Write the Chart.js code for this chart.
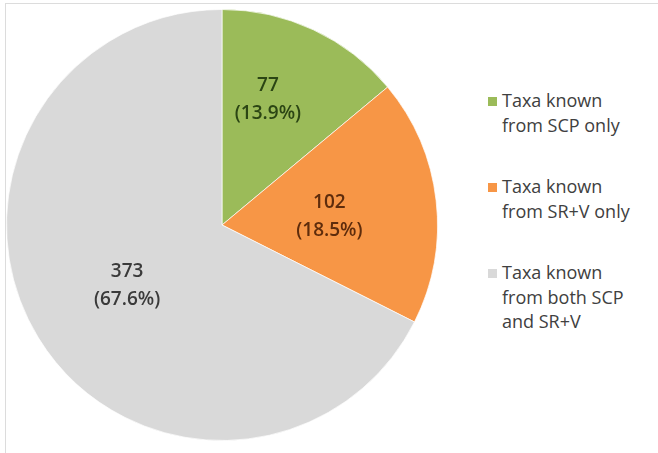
<!DOCTYPE html>
<html lang="en">
<head>
    <meta charset="UTF-8" />
    <title>Taxa by source</title>
    <script src="https://cdn.jsdelivr.net/npm/chart.js"></script>
    <style>
        html, body {
            margin: 0;
            padding: 0;
            background: #fff;
        }
        body {
            width: 658px;
            height: 453px;
            position: relative;
            overflow: hidden;
            font-family: "Open Sans", sans-serif;
        }
        /* light frame on the top and left edges only */
        #frame {
            position: absolute;
            left: 5px;
            top: 3px;
            right: 0;
            bottom: 0;
            border-top: 1px solid #dcdcdc;
            border-left: 1px solid #dcdcdc;
        }
        #chartContainer {
            position: absolute;
            left: 6px;
            top: 9px;
            width: 432px;
            height: 432px;
        }
        #legend {
            position: absolute;
            left: 488px;
            top: 88px;
            color: #404040;
            font-size: 18px;
            line-height: 24.5px;
        }
        .item {
            position: relative;
            padding-left: 14px;
            margin-bottom: 37px;
        }
        .swatch {
            position: absolute;
            left: 0;
            top: 9px;
            width: 9px;
            height: 9px;
        }
    </style>
</head>
<body>

<div id="frame"></div>
<div id="chartContainer">
    <canvas id="myChart"></canvas>
</div>
<div id="legend"></div>

<script>
    // data
    const categories = [
        ['Taxa known', 'from SCP only'],
        ['Taxa known', 'from SR+V only'],
        ['Taxa known', 'from both SCP', 'and SR+V']
    ];
    const counts = [77, 102, 373];
    const percents = ['13.9%', '18.5%', '67.6%'];

    // styles
    const colors = ['#9bbb59', '#f79646', '#d9d9d9'];
    const labelColors = ['#2b4514', '#5e2c0c', '#3a3a3a'];
    // where each value label sits: fraction of radius, angle nudge (deg)
    const labelRadius = [0.62, 0.50, 0.52];
    const labelNudge = [-5, 2, -0.5];

    const sliceLabels = {
        id: 'sliceLabels',
        afterDatasetsDraw(chart) {
            const ctx = chart.ctx;
            const meta = chart.getDatasetMeta(0);
            ctx.save();
            ctx.font = '600 19px "Open Sans", sans-serif';
            ctx.textAlign = 'center';
            ctx.textBaseline = 'middle';
            meta.data.forEach((arc, i) => {
                const p = arc.getProps(['x', 'y', 'startAngle', 'endAngle', 'outerRadius'], true);
                const a = (p.startAngle + p.endAngle) / 2 + labelNudge[i] * Math.PI / 180;
                const r = p.outerRadius * labelRadius[i];
                const x = p.x + Math.cos(a) * r;
                const y = p.y + Math.sin(a) * r;
                ctx.fillStyle = labelColors[i];
                ctx.fillText(String(counts[i]), x, y - 13.5);
                ctx.fillText('(' + percents[i] + ')', x, y + 14.5);
            });
            ctx.restore();
        }
    };

    document.addEventListener("DOMContentLoaded", function() {
        const ctx = document.getElementById('myChart').getContext('2d');

        new Chart(ctx, {
            type: 'pie',
            data: {
                labels: categories.map(c => c.join(' ')),
                datasets: [{
                    data: counts,
                    backgroundColor: colors,
                    borderColor: 'rgba(255,255,255,0.7)',
                    borderWidth: 1
                }]
            },
            options: {
                responsive: true,
                maintainAspectRatio: false,
                animation: false,
                layout: { padding: 0 },
                plugins: {
                    legend: { display: false },
                    tooltip: { enabled: false }
                }
            },
            plugins: [sliceLabels]
        });

        // html legend so the labels can wrap like the original
        const legend = document.getElementById('legend');
        categories.forEach((lines, i) => {
            const item = document.createElement('div');
            item.className = 'item';
            const sw = document.createElement('span');
            sw.className = 'swatch';
            sw.style.background = colors[i];
            item.appendChild(sw);
            lines.forEach(line => {
                const d = document.createElement('div');
                d.textContent = line;
                item.appendChild(d);
            });
            legend.appendChild(item);
        });
    });
</script>

</body>
</html>
